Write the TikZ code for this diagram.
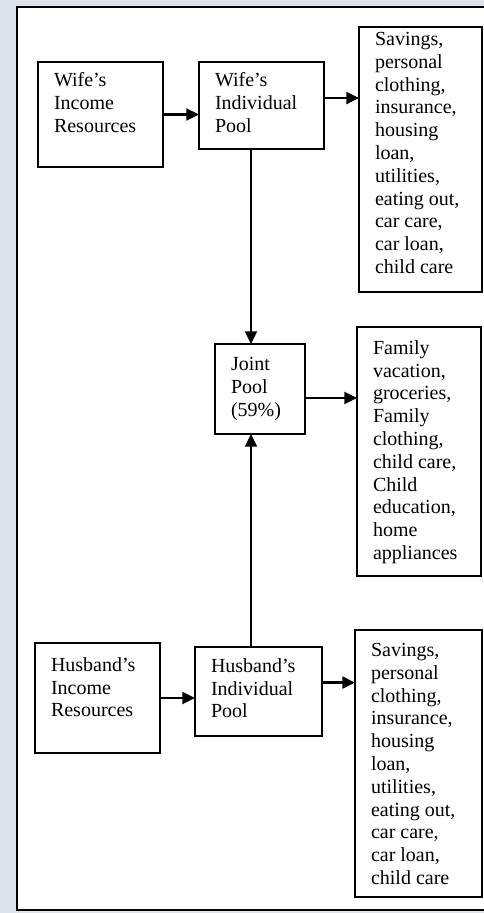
\documentclass[tikz,border=0pt]{standalone}
\usepackage{fontspec}
\setmainfont{Liberation Serif}
\usetikzlibrary{arrows.meta,calc}
\definecolor{scanbg}{RGB}{221,227,235}
\newcommand{\poolcell}[4]{\parbox[c][#2][t]{#1}{\fontsize{15pt}{17.1pt}\selectfont\raggedright\vspace*{#3}#4}}

\begin{document}
\begin{tikzpicture}[x=0.75pt,y=0.75pt,yscale=-1,xscale=1,
  pool/.style={draw, line width=1.7pt, fill=white, anchor=north west, inner xsep=12pt, inner ysep=0pt, outer sep=0pt},
  flow/.style={line width=1.7pt, -{Triangle[length=9.5pt,width=9pt]}}]
%page, frame
\useasboundingbox (0,0) rectangle (484,913);
\fill[scanbg] (0,0) rectangle (484,913);
\fill[white] (17,7) rectangle (484,910);
\draw[line width=1.4pt] (490,7) -- (17,7) -- (17,910) -- (490,910);

%wife
\node[pool] (wir) at (38,62) {\poolcell{69.75pt}{78.75pt}{7.75pt}{Wife’s\\Income\\Resources}};
\node[pool] (wip) at (199,62) {\poolcell{69.75pt}{65.25pt}{7.75pt}{Wife’s\\Individual\\Pool}};
\node[pool] (wlist) at (359,27) {\poolcell{68.25pt}{198.75pt}{4pt}{Savings,\\personal\\clothing,\\insurance,\\housing\\loan,\\utilities,\\eating out,\\car care,\\car loan,\\child care}};

%joint
\node[pool] (joint) at (215,344) {\poolcell{43.5pt}{67.5pt}{10pt}{Joint\\Pool\\(59\%)}};
\node[pool] (jlist) at (357,327) {\poolcell{69pt}{186.75pt}{10pt}{Family\\vacation,\\groceries,\\Family\\clothing,\\child care,\\Child\\education,\\home\\appliances}};

%husband
\node[pool] (hir) at (35,643) {\poolcell{69.75pt}{82.5pt}{10.75pt}{Husband’s\\Income\\Resources}};
\node[pool] (hip) at (195,647) {\poolcell{71.25pt}{66.75pt}{8.5pt}{Husband’s\\Individual\\Pool}};
\node[pool] (hlist) at (355,630) {\poolcell{71.25pt}{200.25pt}{10pt}{Savings,\\personal\\clothing,\\insurance,\\housing\\loan,\\utilities,\\eating out,\\car care,\\car loan,\\child care}};

%arrows
\coordinate (spine) at (251,0);
\coordinate (wout) at ($(wip.north east)!0.414!(wip.south east)$);
\coordinate (jout) at ($(joint.north east)!0.6!(joint.south east)$);
\coordinate (hout) at ($(hip.north east)!0.4!(hip.south east)$);
\draw[flow] (wir.east) -- (wir.east -| wip.west);
\draw[flow] (wout) -- (wout -| wlist.west);
\draw[flow] (wip.south -| spine) -- (joint.north -| spine);
\draw[flow] (hip.north -| spine) -- (joint.south -| spine);
\draw[flow] (jout) -- (jout -| jlist.west);
\draw[flow] (hir.east) -- (hir.east -| hip.west);
\draw[flow] (hout) -- (hout -| hlist.west);
\end{tikzpicture}
\end{document}
